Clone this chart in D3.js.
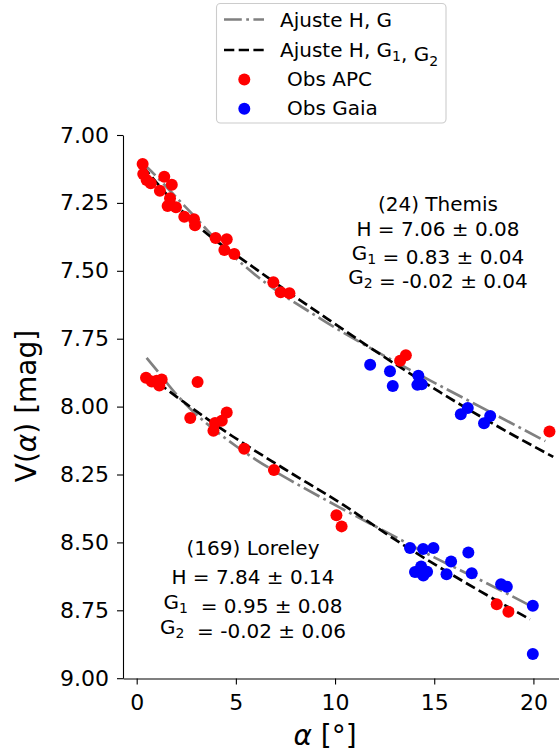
<!DOCTYPE html>
<html><head><meta charset="utf-8">
<script src="https://cdn.jsdelivr.net/npm/d3@7"></script>
<style>
body{margin:0;background:#fff}
text{font-family:"DejaVu Sans",sans-serif;fill:#000}
</style>
</head><body>
<svg id="c" width="559" height="755"></svg>
<script>
// ---------- data ----------
const xTicks = [0, 5, 10, 15, 20];
const yTicks = [7.00, 7.25, 7.50, 7.75, 8.00, 8.25, 8.50, 8.75, 9.00];

// (24) Themis
const themisAPC_alpha = [0.30,0.33,0.50,0.71,1.39,1.77,1.17,1.68,1.56,1.98,2.40,2.89,2.94,3.98,4.54,4.42,4.92,6.89,7.26,7.70,13.57,13.28,20.81];
const themisAPC_V     = [7.107,7.144,7.166,7.178,7.154,7.183,7.205,7.233,7.261,7.266,7.301,7.310,7.332,7.379,7.384,7.423,7.438,7.542,7.579,7.583,7.811,7.831,8.092];
const themisGaia_alpha = [11.77,12.77,12.91,14.20,14.15,14.37,16.34,16.69,17.51,17.82];
const themisGaia_V     = [7.846,7.870,7.924,7.886,7.920,7.918,8.028,8.005,8.061,8.035];
const themisHG_alpha  = [0.3,0.5,1,2,3,3.85,5.88,9.24,13.28,15.29,18.32,20.6];
const themisHG_V      = [7.103,7.117,7.153,7.230,7.306,7.374,7.509,7.675,7.845,7.923,8.039,8.127];
const themisHGG_alpha = [0.3,1,2,3.2,5.73,9.58,13.28,15.29,18.32,21.0];
const themisHGG_V     = [7.115,7.175,7.258,7.342,7.479,7.675,7.855,7.947,8.078,8.185];

// (169) Loreley
const loreleyAPC_alpha = [0.47,0.76,1.01,1.26,1.14,3.07,2.70,4.54,4.29,3.95,3.87,5.42,6.92,10.07,10.33,18.15,18.74];
const loreleyAPC_V     = [7.894,7.908,7.905,7.900,7.922,7.909,8.042,8.022,8.052,8.060,8.089,8.155,8.233,8.400,8.441,8.728,8.755];
const loreleyGaia_alpha = [13.78,14.44,14.96,16.72,15.85,14.34,14.03,14.20,14.64,14.45,15.62,16.89,18.37,18.66,19.97,19.97];
const loreleyGaia_V     = [8.521,8.524,8.521,8.537,8.570,8.589,8.609,8.608,8.608,8.622,8.617,8.614,8.654,8.663,8.733,8.911];
const loreleyHG_alpha  = [0.5,1,2,2.8,4,5,6,7,8.2,10.2,12.4,15,17.5,20];
const loreleyHG_V      = [7.821,7.865,7.955,8.015,8.090,8.145,8.195,8.240,8.290,8.370,8.455,8.555,8.645,8.739];
const loreleyHGG_alpha = [0.5,1.34,2.35,4.87,7.39,10.42,13.03,17.06,19.83];
const loreleyHGG_V     = [7.878,7.927,7.982,8.111,8.227,8.362,8.490,8.669,8.783];

const legendLabels = ["Ajuste H, G", "Ajuste H, G₁, G₂", "Obs APC", "Obs Gaia"];

// ---------- drawing ----------
const svg = d3.select("#c");
const x = d3.scaleLinear().domain([-0.69, 21.3]).range([123, 559.2]);
const y = d3.scaleLinear().domain([7, 9]).range([135, 678.2]);

const zip = (a, b) => a.map((v, i) => [v, b[i]]);
const line = d3.line().x(d => x(d[0])).y(d => y(d[1])).curve(d3.curveMonotoneX);

const plot = svg.append("g");
function fitLine(a, v, kind) {
  const p = plot.append("path").attr("d", line(zip(a, v))).attr("fill", "none")
    .attr("stroke-width", 2.7);
  if (kind === "hg") p.attr("stroke", "#808080").attr("stroke-dasharray", "17.8,4.4,2.8,4.4");
  else p.attr("stroke", "#000").attr("stroke-dasharray", "10.3,4.4");
}
fitLine(themisHG_alpha, themisHG_V, "hg");
fitLine(themisHGG_alpha, themisHGG_V, "hgg");
fitLine(loreleyHG_alpha, loreleyHG_V, "hg");
fitLine(loreleyHGG_alpha, loreleyHGG_V, "hgg");

function dots(a, v, col) {
  plot.append("g").selectAll("circle").data(zip(a, v)).join("circle")
    .attr("cx", d => x(d[0])).attr("cy", d => y(d[1])).attr("r", 6).attr("fill", col);
}
dots(themisAPC_alpha, themisAPC_V, "#ff0000");
dots(loreleyAPC_alpha, loreleyAPC_V, "#ff0000");
dots(themisGaia_alpha, themisGaia_V, "#0000ff");
dots(loreleyGaia_alpha, loreleyGaia_V, "#0000ff");

// axes
const xa = svg.append("g").attr("transform", "translate(0,678.5)")
  .call(d3.axisBottom(x).tickValues(xTicks).tickSize(6).tickSizeOuter(0).tickPadding(10));
const ya = svg.append("g").attr("transform", "translate(123,0)")
  .call(d3.axisLeft(y).tickValues(yTicks).tickFormat(d3.format(".2f")).tickSize(6).tickSizeOuter(0).tickPadding(8));
[xa, ya].forEach(g => {
  g.selectAll("text").attr("font-size", 22).attr("font-family", "DejaVu Sans");
  g.selectAll("line").attr("stroke", "#000").attr("stroke-width", 1.1);
  g.select(".domain").attr("stroke", "#000").attr("stroke-width", 1.1);
});

// axis labels
const xl = svg.append("text").attr("x", 325).attr("y", 745).attr("text-anchor", "middle").attr("font-size", 28);
xl.append("tspan").attr("font-style", "italic").text("α");
xl.append("tspan").text(" [°]");
const yl = svg.append("text").attr("transform", "translate(36,406) rotate(-90)").attr("text-anchor", "middle").attr("font-size", 28);
yl.append("tspan").text("V(");
yl.append("tspan").attr("font-style", "italic").text("α");
yl.append("tspan").text(") [mag]");

// rich text helper with subscripts
function rich(sel, parts, fs) {
  parts.forEach(p => {
    if (p.sub) {
      sel.append("tspan").attr("font-size", fs * 0.7).attr("dy", fs * 0.22).text(p.t);
      sel.append("tspan").attr("dy", -fs * 0.22).text("");
    } else sel.append("tspan").text(p.t);
  });
}
function block(cx, ys, lines, fs) {
  lines.forEach((ln, i) => {
    const t = svg.append("text").attr("x", cx).attr("y", ys[i])
      .attr("text-anchor", "middle").attr("font-size", fs).style("white-space", "pre");
    rich(t, ln, fs);
  });
}
block(438, [211, 235.5, 260, 284], [
  [{t:"(24) Themis"}],
  [{t:"H = 7.06 ± 0.08"}],
  [{t:"G"},{t:"1",sub:true},{t:" = 0.83 ± 0.04"}],
  [{t:"G"},{t:"2",sub:true},{t:" = -0.02 ± 0.04"}]
], 20);
block(253, [554.5, 584, 608.5, 634], [
  [{t:"(169) Loreley"}],
  [{t:"H = 7.84 ± 0.14"}],
  [{t:"G"},{t:"1",sub:true},{t:"  = 0.95 ± 0.08"}],
  [{t:"G"},{t:"2",sub:true},{t:"  = -0.02 ± 0.06"}]
], 20);

// legend
const lg = svg.append("g");
lg.append("rect").attr("x", 216.5).attr("y", 3.5).attr("width", 229.5).attr("height", 119.5)
  .attr("rx", 4).attr("fill", "#fff").attr("fill-opacity", 0.8).attr("stroke", "#cccccc").attr("stroke-width", 1.1);
const rowsY = [19.5, 50, 79.5, 108.7];
lg.append("line").attr("x1", 224).attr("x2", 264).attr("y1", rowsY[0]).attr("y2", rowsY[0])
  .attr("stroke", "#808080").attr("stroke-width", 2.7).attr("stroke-dasharray", "17.8,4.4,2.8,4.4");
lg.append("line").attr("x1", 224).attr("x2", 264).attr("y1", rowsY[1]).attr("y2", rowsY[1])
  .attr("stroke", "#000").attr("stroke-width", 2.7).attr("stroke-dasharray", "10.3,4.4");
lg.append("circle").attr("cx", 244.3).attr("cy", rowsY[2]).attr("r", 6).attr("fill", "#ff0000");
lg.append("circle").attr("cx", 244.3).attr("cy", rowsY[3]).attr("r", 6).attr("fill", "#0000ff");
const fsL = 20;
lg.append("text").attr("x", 280).attr("y", rowsY[0] + 7.3).attr("font-size", fsL).text(legendLabels[0]);
const t2 = lg.append("text").attr("x", 280).attr("y", rowsY[1] + 6.8).attr("font-size", fsL);
rich(t2, [{t:"Ajuste H, G"},{t:"1",sub:true},{t:", G"},{t:"2",sub:true}], fsL);
lg.append("text").attr("x", 287).attr("y", rowsY[2] + 6.5).attr("font-size", fsL).text(legendLabels[2]);
lg.append("text").attr("x", 287).attr("y", rowsY[3] + 6.5).attr("font-size", fsL).text(legendLabels[3]);
</script>
</body></html>
